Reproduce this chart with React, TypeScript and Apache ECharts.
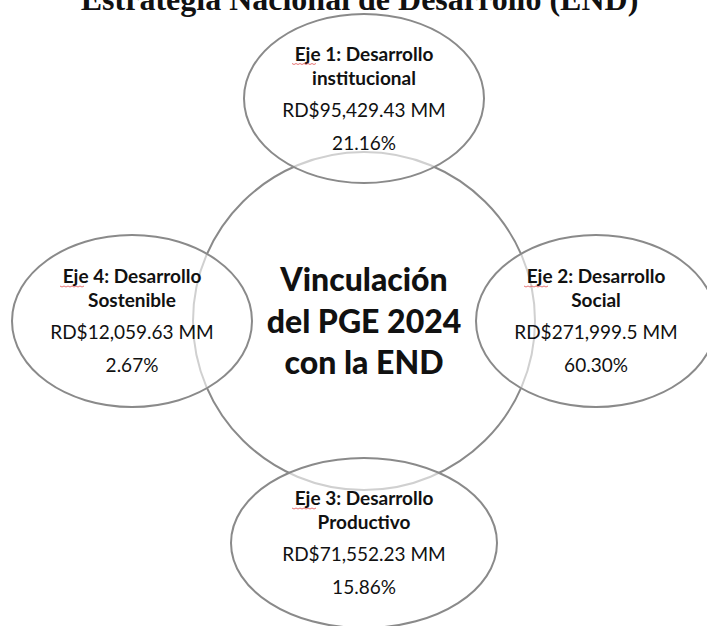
import React, { useEffect, useRef } from "react";
import * as echarts from "echarts";

// ---- Data ----
const titulo = "Estrategia Nacional de Desarrollo (END)";
const centro = ["Vinculación", "del PGE 2024", "con la END"];
const ejes = ["Eje 1: Desarrollo", "Eje 2: Desarrollo", "Eje 3: Desarrollo", "Eje 4: Desarrollo"];
const nombres = ["institucional", "Social", "Productivo", "Sostenible"];
const montos = ["RD$95,429.43 MM", "RD$271,999.5 MM", "RD$71,552.23 MM", "RD$12,059.63 MM"];
const porcentajes = [21.16, 60.3, 15.86, 2.67];

// ---- Layout (positions / sizes) ----
const centerShape = { cx: 364, cy: 321, rx: 171, ry: 169 };
const ejeShapes = [
  { cx: 364, cy: 98.5, rx: 120, ry: 84.5 },
  { cx: 596, cy: 321, rx: 120, ry: 86 },
  { cx: 364, cy: 543, rx: 133, ry: 85 },
  { cx: 132, cy: 321, rx: 120, ry: 86 },
];
const lineOffsets = [-38, -14, 18, 51]; // baselines relative to ellipse center
const centerOffsets = [-31, 11, 52];

const STROKE = "#8a8a8a";
const SANS = "Lato, 'Open Sans', sans-serif";

function textAt(x: number, baseline: number, text: string, size: number, weight: string | number, family: string, k: number) {
  return {
    type: "text",
    x,
    y: baseline - size * k,
    z: 10,
    style: {
      text,
      fill: "#111",
      font: `${weight} ${size}px ${family}`,
      textAlign: "center",
      textVerticalAlign: "middle",
      verticalAlign: "middle",
    },
  };
}

export default function App() {
  const ref = useRef<HTMLDivElement>(null);
  useEffect(() => {
    if (!ref.current) return;
    const chart = echarts.init(ref.current, undefined, { renderer: "svg" });
    const elements: any[] = [];
    elements.push(textAt(359.5, 9.5, titulo, 32, "bold", "'Liberation Serif', 'Times New Roman', serif", 0.34));
    elements.push({
      type: "ellipse",
      z: 1,
      shape: centerShape,
      style: { fill: "none", stroke: STROKE, lineWidth: 2 },
    });
    ejeShapes.forEach((s, i) => {
      elements.push({
        type: "ellipse",
        z: 2,
        shape: s,
        style: { fill: "rgba(255,255,255,0.6)", stroke: STROKE, lineWidth: 2 },
      });
      const lines = [ejes[i], nombres[i], montos[i], porcentajes[i].toFixed(2) + "%"];
      lines.forEach((t, j) => {
        elements.push(textAt(s.cx, s.cy + lineOffsets[j], t, 19, j < 2 ? "bold" : "normal", SANS, 0.37));
      });
      // spell-check squiggle under "Eje"
      const x0 = s.cx - 72;
      const yb = s.cy + lineOffsets[0] + 3;
      const pts: number[][] = [];
      for (let k = 0; k <= 12; k++) pts.push([x0 + k * 2, yb + (k % 2 === 0 ? 0 : 1)]);
      elements.push({
        type: "polyline",
        z: 11,
        shape: { points: pts },
        style: { stroke: "#e05050", lineWidth: 0.8, fill: "none" },
      });
    });
    centro.forEach((t, j) => {
      elements.push(textAt(centerShape.cx, centerShape.cy + centerOffsets[j], t, 32, 900, SANS, 0.37));
    });
    chart.setOption({
      animation: false,
      backgroundColor: "#ffffff",
      graphic: { elements },
    });
    return () => chart.dispose();
  }, []);
  return (
    <div
      ref={ref}
      style={{ position: "fixed", left: 0, top: 0, width: 707, height: 626, background: "#fff" }}
    />
  );
}
